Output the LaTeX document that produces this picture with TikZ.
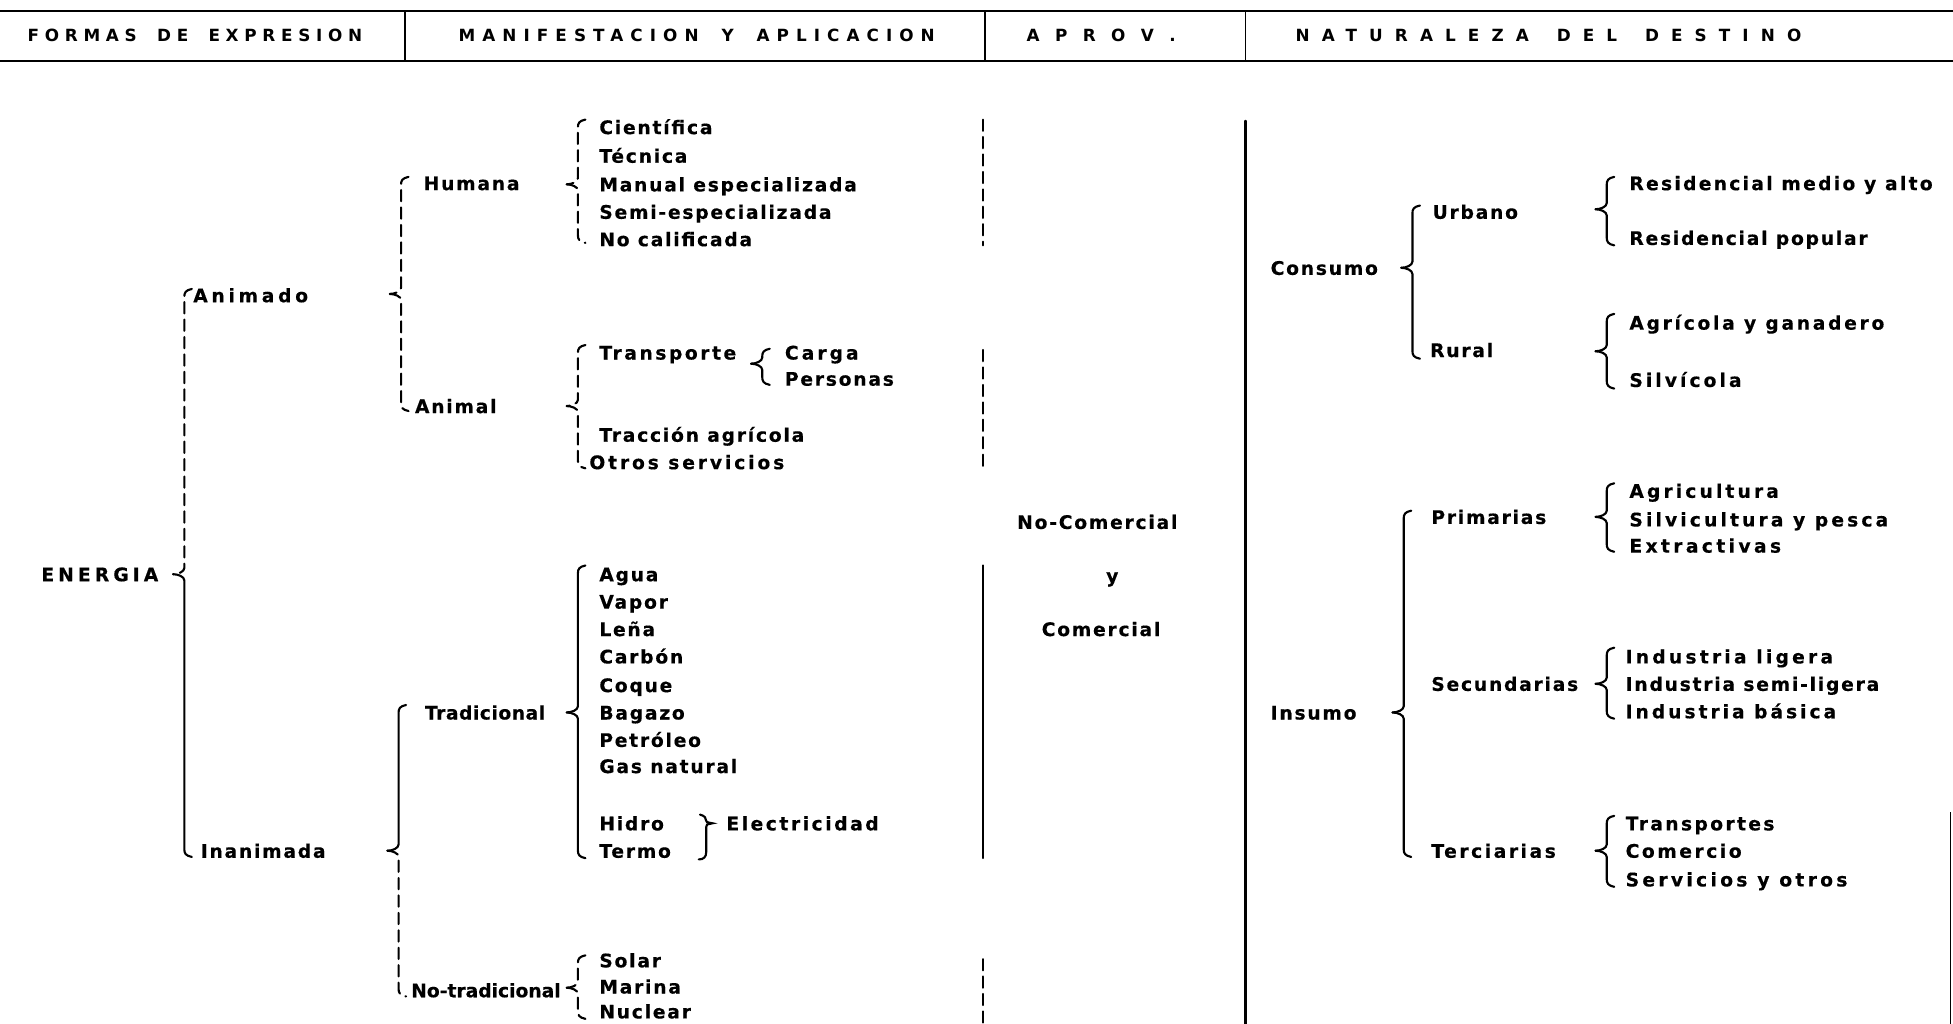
\documentclass[tikz,border=0pt]{standalone}
\usepackage{fontspec}
\newfontfamily\bodyf{DejaVu Sans Bold}[LetterSpace=9.5, FakeBold=0.4]
\newfontfamily\hdrf{DejaVu Sans Bold}
\newcommand{\mylsp}[1]{\addfontfeature{LetterSpace=#1}}
% #1 x, #2 top, #3 tip, #4 bottom, #5 upper style, #6 lower style
\newcommand{\mybrace}[6]{%
  \draw[brc,#5] ({#1+6},{#2}) .. controls ({#1+1},{#2+1}) and ({#1},{#2+3}) .. ({#1},{#2+6})
     -- ({#1},{#3-5}) .. controls ({#1},{#3-2}) and ({#1-5},{#3}) .. ({#1-9},{#3});
  \draw[brc,#6] ({#1-9},{#3}) .. controls ({#1-5},{#3}) and ({#1},{#3+2}) .. ({#1},{#3+5})
     -- ({#1},{#4-6}) .. controls ({#1},{#4-3}) and ({#1+1},{#4-1}) .. ({#1+6},{#4});
}
\tikzset{
  txt/.style={anchor=mid west, inner sep=0pt, yshift=-3.5pt, font=\bodyf\fontsize{15}{18}\selectfont},
  ctr/.style={anchor=mid, inner sep=0pt, yshift=-3.5pt, font=\bodyf\fontsize{15}{18}\selectfont},
  hdr/.style={anchor=mid west, inner sep=0pt, yshift=-2pt, font=\hdrf\fontsize{13.5}{16}\selectfont},
  brc/.style={line width=1.7pt, line cap=round},
  dsh/.style={dash pattern=on 9pt off 5pt},
  plain/.style={},
  rule/.style={line width=2pt},
  divider/.style={line width=1.4pt},
}
\begin{document}
\begin{tikzpicture}[x=1pt,y=-1pt]
\useasboundingbox (0,0) rectangle (1568,822);
% header
\coordinate (tl) at (0,9); \coordinate (tr) at (1568,9);
\coordinate (bl) at (0,49); \coordinate (br) at (1568,49);
\draw[rule] (tl) -- (tr);
\draw[rule] (bl) -- (br);
\foreach \xx/\nm in {325/da,791/db,1000/dc}{
  \coordinate (\nm1) at (\xx,9); \coordinate (\nm2) at (\xx,49);
  \draw[divider] (\nm1) -- (\nm2);
}
\node[hdr] (h1) at (22,29) {\mylsp{34}FORMAS\hspace{7pt} DE\hspace{7pt} EXPRESION};
\node[hdr] (h2) at (368,29) {\mylsp{42}MANIFESTACION\hspace{8pt} Y\hspace{8pt} APLICACION};
\node[hdr] (h3) at (824,29) {\mylsp{57}A P R O V .};
\node[hdr] (h4) at (1040,29) {\mylsp{72}NATURALEZA\hspace{8pt} DEL\hspace{8pt} DESTINO};

% level 1
\node[txt] (energia) at (33,461) {\mylsp{22}ENERGIA};
\mybrace{148}{232}{461}{688}{dsh}{plain}
\node[txt] (animado) at (155,237) {\mylsp{19.9}Animado};
\node[txt] (inanimada) at (161,683) {Inanimada};

% level 2
\mybrace{322}{142}{236}{330}{dsh}{dsh}
\node[txt] (humana) at (340,147) {Humana};
\node[txt] (animal) at (333,326) {Animal};
\mybrace{320}{566}{683}{800}{plain}{dsh}
\node[txt] (tradicional) at (341,572) {\mylsp{2.8}Tradicional};
\node[txt] (notrad) at (330,795) {\mylsp{0}No-tradicional};

% level 3 humana
\mybrace{464}{96}{148}{195}{dsh}{dsh}
\node[txt] (cien) at (481,102) {Científica};
\node[txt] (tecn) at (481,125) {Técnica};
\node[txt] (manu) at (481,148) {Manual especializada};
\node[txt] (semi) at (481,170) {Semi-especializada};
\node[txt] (noca) at (481,192) {No calificada};

% animal
\mybrace{464}{277}{326}{376}{dsh}{dsh}
\node[txt] (trans) at (481,283) {\mylsp{13.6}Transporte};
\mybrace{612}{280}{292}{309}{plain}{plain}
\node[txt] (carga) at (630,283) {\mylsp{16.3}Carga};
\node[txt] (perso) at (630,304) {Personas};
\node[txt] (tracc) at (481,349) {Tracción agrícola};
\node[txt] (otros) at (473,371) {\mylsp{15.4}Otros servicios};

% tradicional
\mybrace{464}{454}{572}{689}{plain}{plain}
\node[txt] (agua) at (481,461) {Agua};
\node[txt] (vapor) at (481,483) {Vapor};
\node[txt] (lena) at (481,505) {Leña};
\node[txt] (carbon) at (481,527) {Carbón};
\node[txt] (coque) at (481,550) {Coque};
\node[txt] (bagazo) at (481,572) {Bagazo};
\node[txt] (petro) at (481,594) {Petróleo};
\node[txt] (gas) at (481,615) {Gas natural};
\node[txt] (hidro) at (481,661) {Hidro};
\node[txt] (termo) at (481,683) {Termo};
\draw[brc] (562,654) .. controls (566,655) and (567,657) .. (567,659)
   .. controls (567,660) .. (572,661) .. controls (567,662) .. (567,664)
   -- (567,684) .. controls (567,688) and (565,690) .. (561,690);
\node[txt] (elec) at (583,661) {\mylsp{13.6}Electricidad};

% no tradicional
\mybrace{464}{767}{793}{818}{dsh}{dsh}
\node[txt] (solar) at (481,771) {Solar};
\node[txt] (marina) at (481,792) {Marina};
\node[txt] (nuclear) at (481,812) {Nuclear};

% aprov column lines
\coordinate (a1) at (789,96);  \coordinate (a2) at (789,197);
\coordinate (a3) at (789,281); \coordinate (a4) at (789,378);
\coordinate (a5) at (789,454); \coordinate (a6) at (789,689);
\coordinate (a7) at (789,770); \coordinate (a8) at (789,822);
\draw[brc,dsh] (a1) -- (a2);
\draw[brc,dsh] (a3) -- (a4);
\draw[brc] (a5) -- (a6);
\draw[brc,dsh] (a7) -- (a8);
\node[ctr] (nocom) at (881,419) {No-Comercial};
\node[ctr] (yy) at (893,462) {y};
\node[ctr] (com) at (884,505) {Comercial};

% destino divider
\coordinate (v1) at (1000,97); \coordinate (v2) at (1000,822);
\draw[brc] (v1) -- (v2);
\coordinate (e1) at (1566,652); \coordinate (e2) at (1566,822);
\draw[line width=1pt] (e1) -- (e2);

% consumo
\node[txt] (consumo) at (1020,215) {Consumo};
\mybrace{1134}{165}{215}{288}{plain}{plain}
\node[txt] (urbano) at (1150,170) {Urbano};
\node[txt] (rural) at (1148,281) {Rural};
\mybrace{1290}{142}{168}{197}{plain}{plain}
\node[txt] (resma) at (1308,147) {\mylsp{12.2}Residencial medio y alto};
\node[txt] (respo) at (1308,191) {Residencial popular};
\mybrace{1290}{252}{282}{312}{plain}{plain}
\node[txt] (agric) at (1308,259) {\mylsp{14.5}Agrícola y ganadero};
\node[txt] (silvi) at (1308,305) {\mylsp{16.3}Silvícola};

% insumo
\node[txt] (insumo) at (1020,572) {Insumo};
\mybrace{1127}{410}{572}{688}{plain}{plain}
\node[txt] (prim) at (1149,415) {Primarias};
\node[txt] (secu) at (1149,549) {Secundarias};
\node[txt] (terc) at (1149,683) {\mylsp{13.6}Terciarias};
\mybrace{1290}{388}{415}{443}{plain}{plain}
\node[txt] (agri2) at (1308,394) {\mylsp{16.7}Agricultura};
\node[txt] (silv2) at (1308,417) {\mylsp{16.7}Silvicultura y pesca};
\node[txt] (extr) at (1308,438) {\mylsp{18.1}Extractivas};
\mybrace{1290}{520}{549}{577}{plain}{plain}
\node[txt] (indl) at (1305,527) {\mylsp{17.2}Industria ligera};
\node[txt] (inds) at (1305,549) {Industria semi-ligera};
\node[txt] (indb) at (1305,571) {\mylsp{15.9}Industria básica};
\mybrace{1290}{655}{683}{712}{plain}{plain}
\node[txt] (tran2) at (1305,661) {\mylsp{12.7}Transportes};
\node[txt] (come) at (1305,683) {\mylsp{13.6}Comercio};
\node[txt] (serv) at (1305,706) {\mylsp{17.7}Servicios y otros};
\end{tikzpicture}
\end{document}
